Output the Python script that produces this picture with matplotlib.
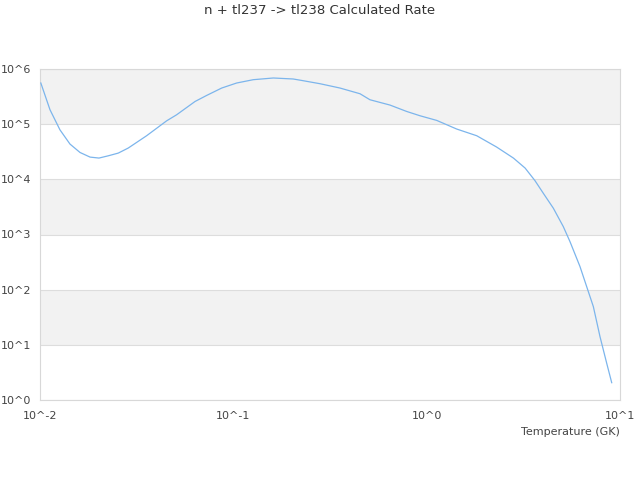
import numpy as np
import matplotlib
matplotlib.use("Agg")
import matplotlib.pyplot as plt

# temperature (GK) and rate
temperature = [0.0101, 0.01126, 0.01268, 0.01429, 0.0161, 0.01815, 0.02019, 0.02255,
               0.0254, 0.0286, 0.0356, 0.0452, 0.0509, 0.0634, 0.0728, 0.0871,
               0.104, 0.1268, 0.161, 0.204, 0.230, 0.2807, 0.356, 0.452,
               0.509, 0.646, 0.788, 0.924, 1.127, 1.43, 1.815, 2.30,
               2.81, 3.23, 3.63, 4.01, 4.52, 5.09, 5.51, 6.21, 6.86, 7.28,
               7.88, 8.54, 9.06]
rate = [5.57e5, 1.83e5, 7.9e4, 4.36e4, 3.07e4, 2.53e4, 2.43e4, 2.67e4,
        2.99e4, 3.69e4, 6.17e4, 1.15e5, 1.48e5, 2.58e5, 3.32e5, 4.52e5,
        5.57e5, 6.4e5, 6.87e5, 6.59e5, 6.13e5, 5.41e5, 4.52e5, 3.56e5,
        2.77e5, 2.22e5, 1.70e5, 1.42e5, 1.17e5, 8.16e4, 6.17e4, 3.85e4,
        2.43e4, 1.60e4, 9.5e3, 5.6e3, 3.0e3, 1.39e3, 745, 262, 92, 49.3,
        14.1, 4.6, 2.06]

x_ticks = [1e-2, 1e-1, 1e0, 1e1]
x_labels = ["10^-2", "10^-1", "10^0", "10^1"]
y_ticks = [1e0, 1e1, 1e2, 1e3, 1e4, 1e5, 1e6]
y_labels = ["10^0", "10^1", "10^2", "10^3", "10^4", "10^5", "10^6"]

fig = plt.figure(figsize=(6.4, 4.8), dpi=100)
ax = fig.add_axes([40/640, 1 - 400/480, 580/640, 331/480])

# alternating bands
for lo in [1e1, 1e3, 1e5]:
    ax.axhspan(lo, lo * 10, color="#f2f2f2", zorder=0, lw=0)

ax.plot(temperature, rate, color="#7cb5ec", lw=0.9, zorder=3)

ax.set_xscale("log")
ax.set_yscale("log")
ax.set_xlim(1e-2, 1e1)
ax.set_ylim(1e0, 1e6)

ax.set_xticks(x_ticks)
ax.set_xticklabels(x_labels)
ax.set_yticks(y_ticks)
ax.set_yticklabels(y_labels)
ax.minorticks_off()
ax.tick_params(axis="both", length=0, labelsize=8, labelcolor="#444444")
ax.tick_params(axis="x", pad=8)
ax.tick_params(axis="y", pad=28)
for lbl in ax.get_yticklabels():
    lbl.set_ha("left")

ax.grid(axis="y", color="#dddddd", lw=0.8, zorder=1)
for s in ax.spines.values():
    s.set_color("#d8d8d8")
    s.set_linewidth(0.8)

ax.set_xlabel("Temperature (GK)", loc="right", fontsize=8, color="#444444", labelpad=4)
fig.text(0.5, 1 - 11/480, "n + tl237 -> tl238 Calculated Rate", ha="center", va="center",
         fontsize=9.5, color="#333333")

fig.savefig("out.png", dpi=100)
